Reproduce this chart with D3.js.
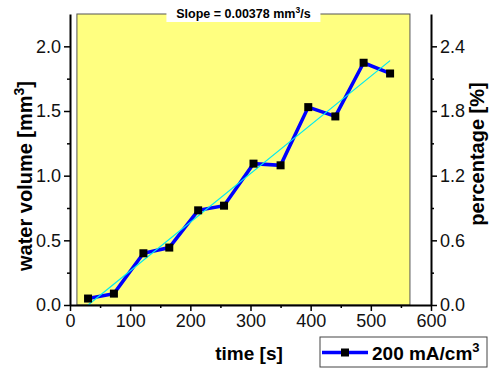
<!DOCTYPE html>
<html>
<head>
<meta charset="utf-8">
<script src="https://cdn.jsdelivr.net/npm/d3@7"></script>
<style>
  body { margin: 0; background: #fff; }
  svg { display: block; font-family: Arial, "Liberation Sans", sans-serif; }
</style>
</head>
<body>
<div id="chart"></div>
<script>
let timeValues = [30, 73, 122, 165, 213, 256, 305, 350, 396, 441, 488, 532];
let volumeValues = [0.05, 0.088, 0.40, 0.444, 0.732, 0.768, 1.093, 1.08, 1.53, 1.458, 1.873, 1.79];
let xTicks = [0, 100, 200, 300, 400, 500, 600];
let yTicks = [0.0, 0.5, 1.0, 1.5, 2.0];
let pctTicks = [0.0, 0.6, 1.2, 1.8, 2.4];
let seriesName = "200 mA/cm";
let slopeLabel = "Slope = 0.00378 mm";

let width = 489, height = 370;
let margin = {left: 70, right: 58, top: 14, bottom: 65};
let plotW = width - margin.left - margin.right,
    plotH = height - margin.top - margin.bottom;

let svg = d3.select("#chart").append("svg")
    .attr("width", width)
    .attr("height", height);

let xScale = d3.scaleLinear().domain([0, 600]).range([margin.left, margin.left + plotW]);
let yScale = d3.scaleLinear().domain([0, 2.25]).range([margin.top + plotH, margin.top]);
let pctScale = d3.scaleLinear().domain([0, 2.7]).range([margin.top + plotH, margin.top]);

// yellow layer frame (spans 11.5..565 s)
svg.append("rect")
    .attr("x", xScale(11.5))
    .attr("y", margin.top)
    .attr("width", xScale(565) - xScale(11.5))
    .attr("height", plotH)
    .attr("fill", "#ffff80")
    .attr("stroke", "#555")
    .attr("stroke-width", 1);

// linear fit (least squares over the points)
let mt = d3.mean(timeValues), mv = d3.mean(volumeValues);
let slope = d3.sum(timeValues, (t, i) => (t - mt) * (volumeValues[i] - mv)) /
            d3.sum(timeValues, t => (t - mt) * (t - mt));
let intercept = mv - slope * mt;
let fitExtent = d3.extent(timeValues);

let points = timeValues.map((t, i) => [t, volumeValues[i]]);

let line = d3.line()
    .x(d => xScale(d[0]))
    .y(d => yScale(d[1]));

svg.append("path")
    .datum(points)
    .attr("d", line)
    .attr("fill", "none")
    .attr("stroke", "#0000ff")
    .attr("stroke-width", 3.5)
    .attr("stroke-linejoin", "miter");

svg.append("path")
    .datum(fitExtent.map(t => [t, Math.max(0, slope * t + intercept)]))
    .attr("d", line)
    .attr("fill", "none")
    .attr("stroke", "#00e8f0")
    .attr("stroke-width", 1.2);

svg.selectAll("rect.marker")
    .data(points)
    .enter().append("rect")
    .attr("class", "marker")
    .attr("x", d => xScale(d[0]) - 4)
    .attr("y", d => yScale(d[1]) - 4)
    .attr("width", 8)
    .attr("height", 8)
    .attr("fill", "#000");

// axes
function styleAxis(g) {
    g.selectAll(".domain").attr("stroke-width", 2);
    g.selectAll(".tick line").attr("stroke-width", 1.5);
    g.selectAll(".tick text").attr("font-size", 18).attr("fill", "#111")
        .attr("font-family", "Arial, 'Liberation Sans', sans-serif");
}

function minorTicks(ticks) {
    let out = [];
    for (let i = 0; i < ticks.length - 1; i++) out.push((ticks[i] + ticks[i + 1]) / 2);
    return out;
}

let xAxisY = margin.top + plotH;
svg.append("g")
    .attr("transform", `translate(0,${xAxisY})`)
    .call(d3.axisBottom(xScale).tickValues(minorTicks(xTicks)).tickSize(3).tickFormat(""))
    .call(g => g.select(".domain").remove())
    .call(styleAxis);
svg.append("g")
    .attr("transform", `translate(0,${xAxisY})`)
    .call(d3.axisBottom(xScale).tickValues(xTicks).tickSize(6).tickSizeOuter(0).tickPadding(3).tickFormat(d3.format("d")))
    .call(styleAxis);

svg.append("g")
    .attr("transform", `translate(${margin.left},0)`)
    .call(d3.axisLeft(yScale).tickValues(minorTicks(yTicks)).tickSize(3).tickFormat(""))
    .call(g => g.select(".domain").remove())
    .call(styleAxis);
svg.append("g")
    .attr("transform", `translate(${margin.left},0)`)
    .call(d3.axisLeft(yScale).tickValues(yTicks).tickSize(6).tickSizeOuter(0).tickPadding(3).tickFormat(d3.format(".1f")))
    .call(styleAxis);

let rightX = margin.left + plotW;
svg.append("g")
    .attr("transform", `translate(${rightX},0)`)
    .call(d3.axisRight(pctScale).tickValues(minorTicks(pctTicks)).tickSize(3).tickFormat(""))
    .call(g => g.select(".domain").remove())
    .call(styleAxis);
svg.append("g")
    .attr("transform", `translate(${rightX},0)`)
    .call(d3.axisRight(pctScale).tickValues(pctTicks).tickSize(6).tickSizeOuter(0).tickPadding(3).tickFormat(d3.format(".1f")))
    .call(styleAxis);

// axis titles
let yTitle = svg.append("text")
    .attr("transform", "translate(32,176) rotate(-90)")
    .attr("text-anchor", "middle")
    .attr("font-size", 20)
    .attr("font-weight", "bold");
yTitle.append("tspan").text("water volume [mm");
yTitle.append("tspan").attr("dy", -8).attr("font-size", 14).text("3");
yTitle.append("tspan").attr("dy", 8).text("]");

svg.append("text")
    .attr("transform", "translate(484,154) rotate(-90)")
    .attr("text-anchor", "middle")
    .attr("font-size", 20)
    .attr("font-weight", "bold")
    .text("percentage [%]");

svg.append("text")
    .attr("x", 249)
    .attr("y", 360)
    .attr("text-anchor", "middle")
    .attr("font-size", 19)
    .attr("font-weight", "bold")
    .text("time [s]");

// slope label
let cx = (xScale(11.5) + xScale(565)) / 2;
svg.append("rect")
    .attr("x", cx - 77)
    .attr("y", 5)
    .attr("width", 154)
    .attr("height", 17)
    .attr("fill", "#fff");
let slopeText = svg.append("text")
    .attr("x", cx)
    .attr("y", 18)
    .attr("text-anchor", "middle")
    .attr("font-size", 12.5)
    .attr("font-weight", "bold");
slopeText.append("tspan").text(slopeLabel);
slopeText.append("tspan").attr("dy", -5).attr("font-size", 8.5).text("3");
slopeText.append("tspan").attr("dy", 5).text("/s");

// legend
let legend = svg.append("g").attr("transform", "translate(320,337)");
legend.append("rect")
    .attr("width", 167)
    .attr("height", 30)
    .attr("fill", "#fff")
    .attr("stroke", "#444")
    .attr("stroke-width", 1);
legend.append("line")
    .attr("x1", 2).attr("x2", 48)
    .attr("y1", 15.5).attr("y2", 15.5)
    .attr("stroke", "#0000ff")
    .attr("stroke-width", 3.5);
legend.append("rect")
    .attr("x", 21).attr("y", 11.5)
    .attr("width", 8).attr("height", 8)
    .attr("fill", "#000");
let legText = legend.append("text")
    .attr("x", 52)
    .attr("y", 23)
    .attr("font-size", 19)
    .attr("font-weight", "bold");
legText.append("tspan").text(seriesName);
legText.append("tspan").attr("dy", -8).attr("font-size", 13).text("3");
</script>
</body>
</html>
